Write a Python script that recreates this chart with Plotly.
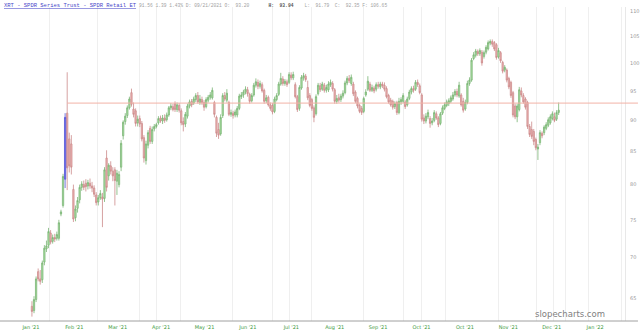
import math
import plotly.graph_objects as go

# ---- data ----
opens = [64.0, 63.5, 64.8, 68.2, 67.3, 67.2, 69.4, 71.1, 71.6, 73.2,
         72.1, 72.6, 72.5, 72.5, 75.8, 77.0, 80.8, 91.2, 87.0, 86.2,
         79.3, 75.3, 76.6, 77.8, 79.6, 80.0, 80.2, 79.8, 80.2, 79.8,
         79.5, 78.5, 77.5, 78.1, 78.2, 78.0, 84.0, 81.3, 82.8, 82.0,
         82.2, 80.5, 80.0, 82.6, 87.5, 89.8, 90.8, 92.1, 94.7, 91.9,
         91.6, 89.6, 90.3, 89.5, 87.2, 83.6, 86.0, 88.7, 86.6, 88.6,
         89.0, 89.6, 90.4, 89.9, 90.4, 90.1, 90.9, 92.1, 92.3, 92.8,
         91.8, 92.5, 91.6, 89.8, 89.4, 90.7, 92.4, 93.2, 92.9, 93.5,
         94.2, 93.0, 93.5, 93.0, 92.3, 93.4, 93.9, 93.8, 93.0, 90.5,
         88.5, 87.8, 90.8, 94.2, 93.4, 93.0, 91.0, 91.2, 90.9, 90.9,
         92.0, 94.0, 94.3, 94.8, 95.2, 94.4, 93.3, 94.3, 96.0, 96.5,
         95.8, 96.1, 95.1, 93.3, 93.9, 92.6, 92.5, 91.5, 93.5, 94.4,
         96.2, 97.1, 96.3, 96.6, 96.5, 97.8, 97.3, 96.1, 94.0, 92.0,
         95.5, 97.3, 97.6, 95.6, 94.2, 93.5, 92.1, 91.1, 94.5, 95.9,
         95.3, 96.0, 95.1, 95.2, 96.1, 96.3, 95.2, 93.2, 93.8, 93.5,
         94.1, 94.7, 96.4, 97.2, 96.3, 96.2, 94.8, 93.7, 92.5, 92.0,
         91.5, 94.3, 95.3, 96.2, 95.1, 95.5, 95.3, 96.1, 95.7, 96.2,
         96.0, 95.4, 94.2, 93.4, 93.2, 92.3, 93.0, 91.3, 93.1, 93.2,
         93.1, 92.6, 93.7, 94.8, 95.4, 95.3, 96.5, 95.9, 94.3, 90.4,
         89.9, 90.6, 90.3, 89.6, 90.0, 91.1, 90.4, 89.5, 91.2, 92.0,
         92.5, 92.8, 93.2, 93.6, 94.3, 94.9, 94.1, 94.3, 93.2, 91.9,
         93.0, 96.3, 96.9, 100.8, 101.4, 102.1, 101.7, 102.0, 101.2, 102.0,
         102.6, 103.7, 104.0, 103.8, 103.4, 101.1, 101.9, 100.1, 98.7, 98.7,
         97.2, 96.5, 94.7, 92.4, 90.6, 91.8, 95.0, 94.2, 93.6, 93.0,
         89.0, 88.5, 88.2, 86.9, 85.4, 86.4, 87.9, 88.0, 88.7, 89.2,
         89.6, 90.3, 90.6, 90.2, 91.3]
highs = [64.6, 65.2, 67.6, 68.6, 68.4, 69.6, 71.6, 72.2, 73.9, 73.6,
         73.0, 73.1, 73.4, 75.0, 76.4, 81.6, 91.2, 98.3, 88.0, 87.6,
         80.0, 77.0, 78.2, 80.0, 80.5, 80.6, 80.8, 80.7, 80.9, 80.4,
         79.9, 78.9, 78.5, 79.2, 78.8, 82.6, 85.2, 83.2, 83.5, 82.6,
         82.6, 82.2, 82.0, 86.8, 90.0, 91.2, 92.5, 94.0, 95.4, 93.0,
         92.0, 90.8, 90.8, 89.9, 87.6, 86.7, 88.4, 89.1, 89.0, 89.4,
         89.6, 90.7, 90.8, 90.9, 91.0, 91.3, 92.4, 92.9, 92.8, 93.2,
         93.0, 92.9, 92.0, 90.5, 91.4, 92.8, 93.5, 93.6, 94.0, 94.6,
         94.8, 94.3, 94.0, 93.4, 93.9, 94.3, 94.8, 95.6, 93.3, 90.8,
         89.6, 91.0, 94.6, 94.8, 95.3, 93.3, 91.8, 91.6, 91.8, 92.4,
         94.5, 94.8, 95.2, 95.8, 95.7, 94.7, 94.6, 96.4, 97.2, 97.0,
         96.8, 96.5, 95.4, 94.3, 94.2, 93.0, 92.9, 94.0, 94.6, 96.6,
         98.2, 97.6, 97.1, 97.0, 98.3, 98.3, 98.4, 96.5, 94.3, 96.0,
         97.8, 98.2, 98.0, 96.8, 94.6, 93.8, 92.5, 94.4, 96.4, 96.4,
         96.6, 96.4, 96.1, 96.7, 97.0, 96.7, 95.5, 94.3, 94.5, 94.5,
         95.1, 96.8, 97.6, 97.8, 97.9, 96.6, 95.1, 94.0, 92.8, 92.4,
         94.0, 95.3, 97.6, 96.6, 96.1, 95.9, 96.5, 96.6, 96.6, 96.6,
         96.5, 95.8, 94.5, 93.8, 93.5, 93.2, 93.3, 93.8, 93.9, 94.6,
         93.4, 94.0, 95.2, 95.8, 95.9, 96.9, 97.0, 96.3, 94.6, 91.0,
         91.2, 91.8, 90.7, 90.4, 91.7, 91.5, 90.7, 91.4, 92.5, 93.0,
         93.5, 93.7, 94.2, 94.8, 95.3, 95.4, 96.6, 94.6, 93.8, 93.5,
         96.8, 97.4, 100.9, 102.0, 102.6, 102.5, 102.7, 102.4, 102.3, 103.3,
         104.2, 104.4, 104.4, 104.1, 103.7, 102.8, 102.2, 100.4, 99.6, 99.0,
         97.5, 96.8, 95.0, 92.8, 92.8, 95.7, 95.6, 94.6, 93.9, 93.3,
         89.4, 89.8, 88.6, 87.2, 86.2, 88.4, 88.2, 89.2, 89.7, 90.5,
         91.0, 91.5, 91.3, 91.7, 93.0]
lows = [62.8, 63.2, 64.5, 67.0, 66.6, 66.8, 69.0, 70.7, 71.2, 71.7,
        71.8, 72.0, 72.2, 72.2, 75.5, 76.7, 79.5, 79.2, 81.8, 81.5,
        74.7, 74.8, 76.0, 77.3, 79.1, 79.2, 79.0, 79.3, 79.4, 78.9,
        78.2, 77.0, 77.0, 77.8, 74.0, 77.5, 79.0, 80.6, 81.5, 80.5,
        77.0, 78.5, 79.6, 82.0, 86.9, 89.3, 90.4, 91.8, 92.3, 90.5,
        89.0, 89.0, 88.9, 86.6, 83.3, 83.0, 85.5, 86.2, 86.2, 88.2,
        88.7, 89.3, 89.6, 89.4, 89.6, 89.8, 90.6, 91.7, 91.5, 91.4,
        91.4, 91.3, 89.2, 88.2, 88.9, 90.3, 92.0, 92.2, 92.6, 93.1,
        92.8, 92.6, 92.6, 91.6, 92.0, 93.0, 93.5, 93.5, 90.5, 87.3,
        87.0, 87.5, 90.4, 93.2, 93.0, 90.7, 90.6, 90.3, 90.5, 90.5,
        91.7, 93.6, 93.8, 94.4, 94.0, 92.8, 93.0, 94.0, 95.6, 95.3,
        95.4, 94.7, 92.8, 92.9, 92.3, 91.6, 91.0, 91.2, 93.2, 94.1,
        95.9, 95.9, 95.9, 95.7, 96.2, 96.9, 96.9, 93.7, 91.4, 91.6,
        95.2, 96.8, 96.6, 93.4, 92.2, 91.6, 89.7, 90.8, 94.2, 94.8,
        95.0, 94.7, 94.7, 94.8, 95.7, 94.9, 92.8, 92.8, 93.0, 93.1,
        93.7, 94.4, 96.0, 96.4, 95.9, 94.1, 92.9, 92.0, 91.2, 90.9,
        91.2, 94.0, 95.0, 94.8, 94.8, 94.6, 94.9, 95.4, 95.3, 95.5,
        94.9, 93.7, 92.8, 92.3, 91.8, 91.9, 90.9, 91.0, 92.6, 92.9,
        91.9, 92.3, 93.4, 94.4, 94.7, 95.0, 95.7, 94.4, 89.8, 89.4,
        89.5, 90.2, 88.8, 89.2, 89.7, 90.1, 88.9, 89.2, 90.9, 91.7,
        92.2, 92.4, 92.9, 93.3, 94.0, 93.9, 93.8, 92.3, 91.3, 91.6,
        92.7, 95.9, 96.6, 100.5, 101.0, 101.3, 101.3, 99.5, 100.8, 101.6,
        102.3, 103.3, 103.0, 102.2, 100.6, 100.8, 100.0, 98.1, 98.3, 96.5,
        95.3, 93.8, 90.5, 90.2, 89.7, 91.5, 93.9, 92.8, 91.8, 88.6,
        87.3, 87.0, 86.0, 85.2, 83.7, 86.0, 87.1, 87.6, 88.4, 88.9,
        89.3, 90.0, 89.7, 89.9, 90.9]
closes = [63.4, 64.8, 67.3, 67.3, 67.0, 69.3, 71.2, 71.5, 73.4, 72.0,
          72.6, 72.4, 73.0, 74.6, 76.1, 81.2, 90.5, 82.5, 82.8, 82.6,
          75.1, 76.5, 77.7, 79.6, 80.1, 79.6, 79.7, 80.3, 79.8, 79.5,
          78.6, 77.4, 78.1, 78.7, 77.9, 82.2, 79.6, 82.9, 82.0, 81.3,
          80.6, 81.7, 81.5, 86.3, 89.7, 90.7, 92.1, 93.6, 92.7, 91.0,
          89.5, 90.2, 89.4, 87.0, 84.0, 86.2, 88.0, 86.6, 88.5, 89.0,
          89.3, 90.3, 89.9, 90.4, 90.0, 90.9, 92.1, 92.4, 91.8, 91.8,
          92.6, 91.7, 89.6, 89.3, 91.0, 92.4, 93.1, 92.6, 93.6, 94.2,
          93.1, 93.6, 93.0, 92.2, 93.5, 93.9, 94.3, 95.1, 91.0, 87.9,
          87.6, 90.5, 94.2, 93.6, 94.6, 91.0, 91.3, 90.8, 91.4, 92.0,
          94.1, 94.3, 94.8, 95.3, 94.5, 93.2, 94.2, 96.0, 96.6, 95.8,
          96.3, 95.0, 93.2, 93.8, 92.6, 92.0, 91.4, 93.6, 94.2, 96.2,
          97.2, 96.3, 96.7, 96.1, 97.9, 97.3, 97.9, 94.0, 91.8, 95.6,
          97.4, 97.7, 97.0, 93.8, 92.5, 92.0, 90.5, 94.0, 96.0, 95.2,
          96.2, 95.1, 95.6, 96.2, 96.5, 95.3, 93.2, 93.7, 93.4, 94.1,
          94.6, 96.4, 97.2, 96.8, 97.4, 94.5, 93.2, 92.4, 91.5, 91.3,
          93.7, 94.8, 96.7, 95.1, 95.6, 95.0, 96.1, 95.8, 96.2, 95.9,
          95.3, 94.0, 93.1, 92.6, 92.2, 92.8, 91.3, 93.2, 93.5, 94.2,
          92.3, 93.6, 94.8, 95.4, 95.1, 96.5, 96.1, 94.7, 90.2, 89.9,
          90.7, 91.3, 89.5, 89.9, 91.3, 90.4, 89.3, 91.1, 92.1, 92.6,
          93.1, 93.3, 93.8, 94.3, 94.9, 94.3, 96.0, 92.6, 91.7, 93.0,
          96.3, 96.9, 100.5, 101.5, 102.2, 101.7, 102.3, 100.0, 101.9, 102.9,
          103.8, 104.0, 103.5, 102.6, 101.0, 102.3, 100.4, 98.5, 99.2, 96.9,
          95.7, 94.2, 90.9, 90.6, 92.4, 95.2, 94.3, 93.1, 92.2, 89.0,
          87.7, 87.4, 86.6, 85.6, 85.7, 88.0, 87.5, 88.9, 89.3, 90.1,
          90.6, 91.1, 90.0, 91.3, 91.7]

highlight_index = 16          # candle drawn in blue
level_price = 92.9            # horizontal level line
level_start_index = 17
month_labels = ["Jan '21", "Feb '21", "Mar '21", "Apr '21", "May '21", "Jun '21",
                "Jul '21", "Aug '21", "Sep '21", "Oct '21", "Oct '21", "Nov '21",
                "Dec '21", "Jan '22"]
y_tick_values = [65, 70, 75, 80, 85, 90, 95, 100, 105, 110]

header_title = "XRT - SPDR Series Trust - SPDR Retail ET"
header_stats = [("91.56", 0), ("1.39", 1), ("1.43%", 1), ("D:", 1), ("09/21/2021", 1),
                ("O:", 1), ("93.20", 2), ("H:", 7), ("93.94", 2), ("L:", 4),
                ("91.79", 2), ("C:", 2), ("92.35", 2), ("F:", 1), ("106.65", 1)]

# ---- layout constants (style only) ----
W, H = 640, 334
ML, MR, MT, MB = 0, 13, 7, 13
PLOT_W = W - ML - MR
X_RANGE = [-15.4, 286.0]
Y_RANGE = [62.3, 110.8]
label_step = 20.93
grid_idx = [8.7, 31.7, 51.9, 60.1, 71.6, 96.6, 115.9, 124.0, 135.0, 160.0,
            179.3, 188.0, 199.5, 225.0, 243.3, 251.4, 257.2, 268.3, 284.1]

n = len(opens)
idx = list(range(n))
main = [i for i in idx if i != highlight_index]

fig = go.Figure()
fig.add_trace(go.Candlestick(
    x=main,
    open=[opens[i] for i in main], high=[highs[i] for i in main],
    low=[lows[i] for i in main], close=[closes[i] for i in main],
    increasing=dict(fillcolor="#b2e6aa", line=dict(color="#78b474", width=0.8)),
    decreasing=dict(fillcolor="#f2b6b6", line=dict(color="#cc8a8a", width=0.8)),
    showlegend=False, hoverinfo="skip"))
hi = highlight_index
fig.add_trace(go.Candlestick(
    x=[hi], open=[opens[hi]], high=[highs[hi]], low=[lows[hi]], close=[closes[hi]],
    increasing=dict(fillcolor="#6464ee", line=dict(color="#5656d6", width=0.8)),
    decreasing=dict(fillcolor="#6464ee", line=dict(color="#5656d6", width=0.8)),
    showlegend=False, hoverinfo="skip"))

# level line
fig.add_shape(type="line", xref="x", yref="y", x0=level_start_index, x1=X_RANGE[1],
              y0=level_price, y1=level_price, line=dict(color="#f2b2a6", width=1))
fig.add_shape(type="line", xref="paper", yref="y", x0=1, x1=W / PLOT_W,
              y0=level_price, y1=level_price, line=dict(color="#f2b2a6", width=1))
# bottom axis line extended across the whole width
fig.add_shape(type="line", xref="paper", yref="paper", x0=0, x1=W / PLOT_W, y0=0, y1=0,
              line=dict(color="#a0a0a0", width=1))

fig.update_layout(
    width=W, height=H, autosize=False,
    margin=dict(l=ML, r=MR, t=MT, b=MB, pad=0),
    paper_bgcolor="white", plot_bgcolor="white",
    boxgap=0.12,
    font=dict(family="DejaVu Sans", size=5, color="#999999"),
    xaxis=dict(range=X_RANGE, rangeslider=dict(visible=False), showgrid=False,
               zeroline=False, showline=False, ticks="",
               tickmode="array",
               tickvals=[k * label_step - 0.5 for k in range(len(month_labels))],
               ticktext=month_labels,
               tickfont=dict(size=5, color="#3d9a3d", family="DejaVu Sans"),
               ticklabelstandoff=2,
               minor=dict(tickvals=grid_idx, showgrid=True, gridcolor="#efefef",
                          gridwidth=1, ticks="")),
    yaxis=dict(type="log", range=[math.log10(Y_RANGE[0]), math.log10(Y_RANGE[1])],
               side="right", tickmode="array", tickvals=y_tick_values,
               ticktext=[str(v) for v in y_tick_values],
               tickfont=dict(size=5, color="#999999", family="DejaVu Sans"),
               showgrid=False, zeroline=False, ticks="",
               showline=True, linecolor="#e8e8e8", linewidth=1,
               ticklabelstandoff=3, ticklabeloverflow="allow"),
    hovermode=False,
)

# header
PLOT_H = H - MT - MB
hy = 1 + (MT - 5) / PLOT_H
fig.add_annotation(xref="paper", yref="paper", x=2 / PLOT_W, y=hy,
                   xanchor="left", yanchor="middle", showarrow=False,
                   text="<u>" + header_title + "</u>",
                   font=dict(family="Liberation Mono", size=5.5, color="#4646c8"))
NB = "\u00a0"
parts = []
for t, gap in header_stats:
    piece = NB * gap + t
    if t in ("H:", "93.94"):
        piece = NB * gap + "<span style='color:#555555'><b>%s</b></span>" % t
    parts.append(piece)
fig.add_annotation(xref="paper", yref="paper", x=137 / PLOT_W, y=hy,
                   xanchor="left", yanchor="middle", showarrow=False,
                   text="".join(parts),
                   font=dict(family="Liberation Mono", size=4.6, color="#a0a0a0"))

# watermark
fig.add_annotation(xref="paper", yref="paper", x=572 / PLOT_W,
                   y=(H - MB - 314) / PLOT_H,
                   xanchor="center", yanchor="middle", showarrow=False,
                   text="slopecharts.com",
                   font=dict(family="DejaVu Sans", size=8.5, color="#808080"))

fig.write_html("out.html")
